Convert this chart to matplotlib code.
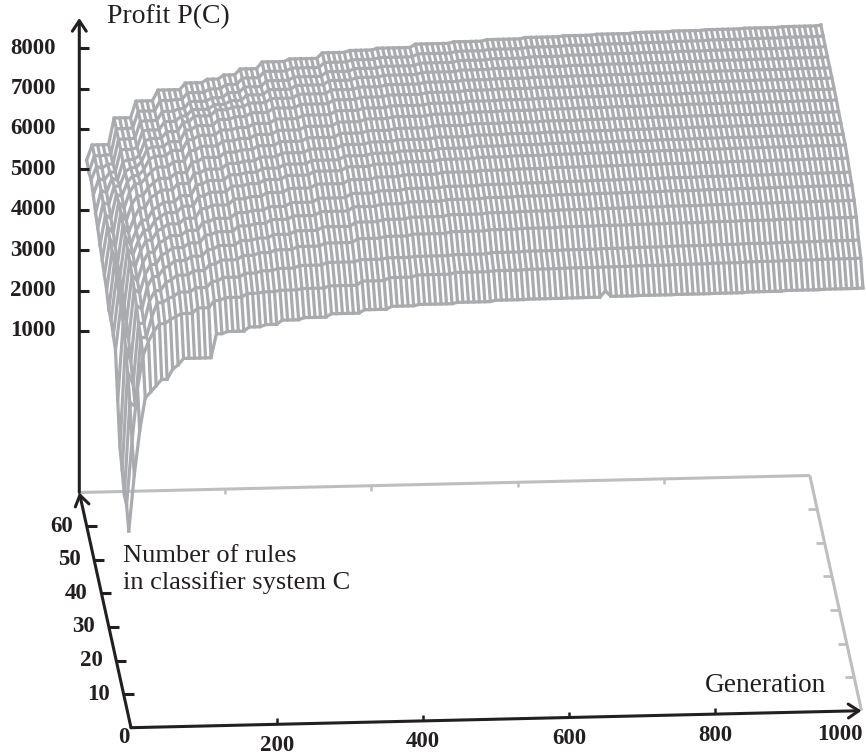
import numpy as np
import matplotlib
matplotlib.use('Agg')
import matplotlib.pyplot as plt

# Generations at which the profit values change (held until the next one)
GENERATION_BREAKS = [0, 7.5, 15, 22.5, 30, 37.5, 45, 60, 67.5, 75,
                     97.5, 120, 135, 165, 187.5, 210, 240, 277.5, 322.5, 360,
                     397.5, 450, 502.5, 547.5, 600, 652.5, 660, 697.5, 750, 802.5,
                     847.5, 900, 952.5, 1000]
GENERATION_STEP = 7.5
RULES = [3, 6, 9, 12, 15, 18, 21, 24, 27, 30, 33, 36, 39, 42, 45, 48, 51, 54, 57, 60]

P_R03 = [1619, 3000, 4100, 4900, 5050, 5200, 5350, 5600, 5700, 5860,
         5860, 6450, 6500, 6600, 6650, 6750, 6800, 6880, 6960, 7030,
         7060, 7090, 7120, 7130, 7135, 7290, 7150, 7155, 7160, 7165,
         7180, 7195, 7205, 7213]
P_R06 = [2012, 3600, 4900, 5700, 6050, 6300, 6480, 6580, 6650, 6720,
         6850, 7020, 7090, 7180, 7210, 7240, 7270, 7320, 7420, 7490,
         7540, 7580, 7600, 7615, 7625, 7630, 7630, 7640, 7650, 7660,
         7675, 7685, 7695, 7705]
P_R09 = [2012, 4300, 4200, 5900, 5900, 6400, 6750, 6850, 6900, 7000,
         7100, 7250, 7340, 7430, 7480, 7530, 7590, 7650, 7700, 7730,
         7750, 7770, 7800, 7815, 7825, 7835, 7835, 7845, 7855, 7865,
         7875, 7885, 7895, 7903]
P_R12 = [2381, 4800, 4500, 6000, 6000, 6550, 6800, 7000, 7060, 7170,
         7270, 7420, 7520, 7620, 7680, 7740, 7810, 7880, 7970, 8010,
         8050, 8090, 8115, 8130, 8145, 8155, 8155, 8165, 8175, 8185,
         8195, 8205, 8212, 8218]
P_R15 = [2700, 5200, 4800, 6200, 6100, 6650, 6900, 7100, 7160, 7280,
         7380, 7540, 7630, 7740, 7790, 7870, 7950, 8030, 8130, 8180,
         8220, 8260, 8285, 8300, 8315, 8325, 8325, 8335, 8345, 8355,
         8365, 8372, 8380, 8386]
P_R18 = [3609, 5500, 5100, 6350, 6250, 6700, 6950, 7180, 7240, 7350,
         7460, 7650, 7720, 7850, 7900, 7990, 8070, 8160, 8260, 8310,
         8350, 8385, 8410, 8425, 8440, 8450, 8450, 8460, 8470, 8480,
         8490, 8497, 8504, 8510]
P_R21 = [4599, 5700, 5300, 6450, 6300, 6750, 7000, 7230, 7300, 7400,
         7520, 7720, 7800, 7930, 7980, 8060, 8150, 8240, 8340, 8390,
         8430, 8460, 8485, 8500, 8515, 8525, 8525, 8535, 8545, 8555,
         8562, 8570, 8577, 8584]
P_R24 = [4723, 5800, 5450, 6550, 6400, 6800, 7050, 7270, 7340, 7440,
         7570, 7800, 7880, 8020, 8070, 8160, 8250, 8340, 8430, 8480,
         8520, 8560, 8585, 8600, 8615, 8625, 8625, 8635, 8645, 8655,
         8662, 8670, 8677, 8683]
P_R27 = [4847, 5900, 5550, 6600, 6450, 6800, 7050, 7290, 7370, 7470,
         7620, 7860, 7950, 8090, 8140, 8230, 8320, 8410, 8500, 8550,
         8590, 8630, 8660, 8675, 8690, 8700, 8700, 8710, 8720, 8730,
         8737, 8744, 8750, 8757]
P_R30 = [4847, 6000, 5650, 6650, 6450, 6800, 7050, 7300, 7380, 7480,
         7630, 7900, 7990, 8120, 8170, 8260, 8350, 8430, 8520, 8570,
         8610, 8650, 8680, 8695, 8710, 8720, 8720, 8730, 8740, 8750,
         8755, 8762, 8768, 8775]
P_R33 = [5089, 6050, 5750, 6700, 6500, 6850, 7100, 7350, 7430, 7530,
         7680, 7930, 8020, 8150, 8200, 8290, 8380, 8460, 8550, 8600,
         8640, 8680, 8710, 8725, 8740, 8750, 8750, 8760, 8770, 8778,
         8785, 8790, 8796, 8802]
P_R36 = [5210, 6100, 5900, 6750, 6550, 6950, 7150, 7350, 7470, 7570,
         7700, 7960, 8060, 8180, 8230, 8320, 8410, 8490, 8580, 8630,
         8670, 8710, 8740, 8755, 8770, 8780, 8780, 8790, 8800, 8808,
         8815, 8820, 8826, 8832]
P_R39 = [5334, 6150, 6000, 6750, 6600, 7000, 7200, 7350, 7500, 7600,
         7730, 7990, 8090, 8210, 8260, 8350, 8440, 8520, 8610, 8670,
         8710, 8750, 8780, 8795, 8810, 8820, 8820, 8830, 8840, 8850,
         8856, 8861, 8867, 8873]
P_R42 = [5455, 6200, 6100, 6700, 6650, 7000, 7150, 7300, 7550, 7620,
         7750, 8010, 8110, 8230, 8280, 8370, 8470, 8550, 8640, 8690,
         8730, 8770, 8800, 8815, 8830, 8840, 8840, 8850, 8860, 8870,
         8878, 8884, 8890, 8896]
P_R45 = [5626, 6250, 6200, 6650, 6650, 7000, 7100, 7250, 7550, 7600,
         7720, 8000, 8100, 8240, 8300, 8390, 8490, 8570, 8660, 8710,
         8750, 8790, 8820, 8835, 8850, 8860, 8860, 8870, 8880, 8890,
         8898, 8906, 8912, 8918]
P_R48 = [5748, 6300, 6250, 6600, 6550, 7000, 7050, 7150, 7500, 7560,
         7720, 7950, 8090, 8230, 8290, 8380, 8480, 8570, 8660, 8710,
         8755, 8795, 8825, 8840, 8855, 8865, 8865, 8875, 8885, 8895,
         8903, 8910, 8917, 8923]
P_R51 = [5943, 6350, 6300, 6500, 6500, 7050, 7050, 7100, 7500, 7520,
         7720, 7850, 8000, 8110, 8200, 8330, 8450, 8540, 8640, 8700,
         8740, 8790, 8825, 8845, 8860, 8875, 8875, 8885, 8895, 8905,
         8915, 8922, 8930, 8938]
P_R54 = [6067, 6400, 6350, 6450, 6450, 7060, 7060, 7080, 7490, 7500,
         7720, 7780, 7950, 8030, 8150, 8280, 8420, 8500, 8610, 8670,
         8710, 8770, 8810, 8835, 8860, 8880, 8880, 8890, 8900, 8910,
         8920, 8928, 8936, 8945]
P_R57 = [6010, 6420, 6400, 6430, 6430, 7070, 7070, 7080, 7490, 7490,
         7740, 7760, 7920, 8000, 8100, 8250, 8400, 8470, 8590, 8640,
         8680, 8750, 8790, 8820, 8850, 8870, 8870, 8885, 8895, 8910,
         8925, 8935, 8948, 8960]
P_R60 = [6059, 6430, 6430, 6430, 6430, 7085, 7085, 7080, 7490, 7490,
         7750, 7750, 7910, 7990, 8086, 8225, 8386, 8445, 8577, 8620,
         8660, 8740, 8775, 8810, 8840, 8860, 8860, 8880, 8900, 8915,
         8930, 8945, 8960, 8980]

GENERATION_TICKS = [200, 400, 600, 800]
RULE_TICKS = [10, 20, 30, 40, 50, 60]
PROFIT_TICKS = [1000, 2000, 3000, 4000, 5000, 6000, 7000, 8000]

GEN_MAX = 1000
RULE_MAX = 70
PROFIT_MIN = -3000

WIRE = '#a9abae'
FLOOR = '#bcbec0'
INK = '#231f20'
SERIF = 'Liberation Serif'


def project(gen, rules, profit=PROFIT_MIN):
    """Oblique projection of (generation, rules, profit) to image pixels"""
    gen, rules, profit = np.asarray(gen), np.asarray(rules), np.asarray(profit)
    x = 131 + 0.7305 * gen - 0.7386 * rules
    y = 727.7 - 0.017 * gen - 3.36 * rules - 0.0404 * (profit - PROFIT_MIN)
    return x, y


def seg(ax, a, b, color, lw, z=2):
    ax.plot([a[0], b[0]], [a[1], b[1]], color=color, lw=lw, zorder=z,
            solid_capstyle='butt')


def arrow(ax, tail, head):
    ax.annotate('', xy=head, xytext=tail, zorder=5,
                arrowprops=dict(arrowstyle='->,head_length=0.75,head_width=0.5',
                                color=INK, lw=2.2, shrinkA=0, shrinkB=0))


fig = plt.figure(figsize=(8.66, 7.55), dpi=100)
ax = fig.add_axes([0, 0, 1, 1])
ax.set_xlim(0, 866)
ax.set_ylim(755, 0)
ax.axis('off')

# Floor, back and right edges
back_l = project(0, RULE_MAX)
back_r = project(GEN_MAX, RULE_MAX)
front_r = project(GEN_MAX, 0)
origin = project(0, 0)
seg(ax, back_l, back_r, FLOOR, 2.2, 1)
seg(ax, back_r, front_r, FLOOR, 2.2, 1)
for g in GENERATION_TICKS:
    x, y = project(g, RULE_MAX)
    seg(ax, (x, y), (x, y + 5), FLOOR, 1.8, 1)
for r in RULE_TICKS:
    x, y = project(GEN_MAX, r)
    seg(ax, (x, y), (x - 9, y), FLOOR, 2.0, 1)

# Wire surface
profit = np.array([P_R03, P_R06, P_R09, P_R12, P_R15, P_R18, P_R21, P_R24, P_R27, P_R30,
                   P_R33, P_R36, P_R39, P_R42, P_R45, P_R48, P_R51, P_R54, P_R57, P_R60])
wire_gens = np.arange(0, GEN_MAX + GENERATION_STEP, GENERATION_STEP)
held = np.searchsorted(GENERATION_BREAKS, wire_gens, side='right') - 1
grid = profit[:, held]
gg, rr = np.meshgrid(wire_gens, RULES)
px, py = project(gg, rr, grid)
for i in range(len(RULES)):
    ax.plot(px[i], py[i], color=WIRE, lw=2.3, zorder=3, solid_joinstyle='round')
for j in range(len(wire_gens)):
    ax.plot(px[:, j], py[:, j], color=WIRE, lw=2.3, zorder=3, solid_joinstyle='round')

# Axes in front of the surface
arrow(ax, back_l, (back_l[0], 18))
arrow(ax, origin, back_l)
arrow(ax, origin, front_r)

tick_font = dict(family=SERIF, fontsize=16.5, fontweight='bold', color=INK,
                 va='center', ha='center')
for p in PROFIT_TICKS:
    x, y = project(0, RULE_MAX, p)
    seg(ax, (x, y), (x + 10, y), INK, 2.2, 5)
    ax.text(x - 46, y, str(p), **tick_font)
for r in RULE_TICKS:
    x, y = project(0, r)
    seg(ax, (x, y), (x + 10, y), INK, 2.2, 5)
    ax.text(x - 25, y, str(r), **tick_font)
for g in GENERATION_TICKS:
    x, y = project(g, 0)
    seg(ax, (x, y), (x, y - 6), INK, 1.8, 5)
    ax.text(x, y + 21, str(g), **tick_font)
ax.text(origin[0] - 7, origin[1] + 10, '0', **tick_font)
ax.text(front_r[0] - 22, front_r[1] + 24, '1000', **tick_font)

label_font = dict(family=SERIF, color=INK, va='center', ha='left')
ax.text(107, 17, 'Profit P(C)', fontsize=20, **label_font)
ax.text(123, 556, 'Number of rules', fontsize=19, **label_font)
ax.text(123, 583, 'in classifier system C', fontsize=19, **label_font)
ax.text(705, 686, 'Generation', fontsize=19.6, **label_font)

fig.savefig('out.png', dpi=100)
